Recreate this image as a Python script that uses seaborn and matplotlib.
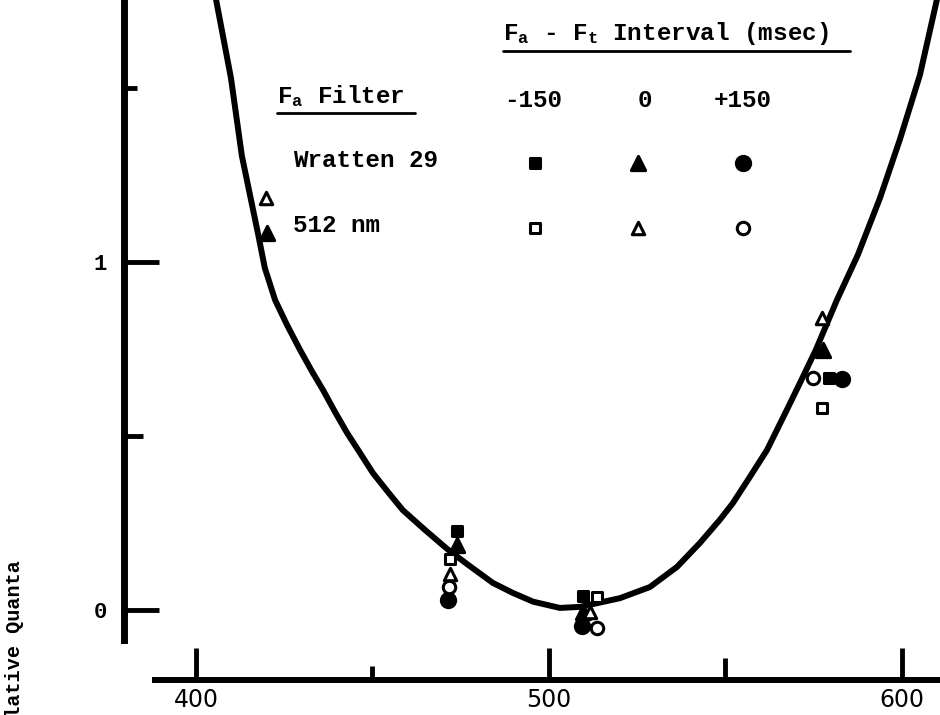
import matplotlib
matplotlib.use("Agg")
import matplotlib.pyplot as plt
from matplotlib.lines import Line2D
import seaborn as sns

# ---------------------------------------------------------------- data
# Fitted spectral curve: wavelength (nm) vs relative quanta
curve_nm = [405.7, 409.9, 413.0, 417.6, 419.5, 422.4, 425.8, 429.5, 432.9,
            436.0, 439.4, 442.8, 446.5, 450.1, 454.4, 458.6, 464.9, 471.1,
            476.8, 484.1, 489.8, 495.5, 503.1, 508.8, 520.1, 528.6, 536.3,
            542.8, 548.4, 552.1, 556.9, 561.8, 567.4, 571.1, 575.6, 581.6,
            587.5, 593.8, 599.4, 605.1, 609.9]
curve_q = [1.753, 1.529, 1.305, 1.080, 0.983, 0.891, 0.819, 0.747, 0.685,
           0.632, 0.569, 0.509, 0.451, 0.394, 0.339, 0.287, 0.230, 0.176,
           0.132, 0.078, 0.049, 0.024, 0.006, 0.009, 0.034, 0.066, 0.124,
           0.193, 0.259, 0.307, 0.382, 0.460, 0.575, 0.652, 0.747, 0.891,
           1.020, 1.184, 1.351, 1.537, 1.753]

filter_names = ["Wratten 29", "512 nm"]
interval_labels = ["-150", "0", "+150"]

# Wratten 29 adapting filter
w29_m150_nm = [473.9, 509.6, 579.3]
w29_m150_q = [0.227, 0.040, 0.667]
w29_0_nm = [420.1, 473.9, 509.6, 577.6]
w29_0_q = [1.083, 0.187, -0.006, 0.747]
w29_p150_nm = [471.4, 509.3, 583.0]
w29_p150_q = [0.029, -0.046, 0.664]

# 512 nm adapting filter
g512_m150_nm = [472.0, 513.6, 577.3]
g512_m150_q = [0.147, 0.037, 0.580]
g512_0_nm = [419.8, 472.0, 511.6, 577.3]
g512_0_q = [1.184, 0.103, -0.006, 0.839]
g512_p150_nm = [471.7, 513.6, 574.8]
g512_p150_q = [0.066, -0.052, 0.667]

x_major = [400, 500, 600]
x_minor = [450, 550]
y_major = [0, 1]
y_minor = [0.5, 1.5]

# ---------------------------------------------------------------- style
sns.set_style("white", rc={"axes.edgecolor": "black",
                           "xtick.color": "black", "ytick.color": "black",
                           "text.color": "black"})
plt.rcParams["font.family"] = ["Liberation Mono", "DejaVu Sans"]
plt.rcParams["mathtext.fontset"] = "custom"
plt.rcParams["mathtext.rm"] = "Liberation Mono:bold"
plt.rcParams["mathtext.it"] = "Liberation Mono:bold"

W, H = 940, 715


def fx(x):
    return x / W


def fy(y):
    return 1 - y / H


fig = plt.figure(figsize=(W / 100, H / 100), dpi=100)
ax = fig.add_axes([fx(124), fy(680), 1 - fx(124), 680 / H])
ax.set_xlim(379.6, 610.8)
ax.set_ylim(-0.2011, 1.7529)

# curve
sns.lineplot(x=curve_nm, y=curve_q, color="black", linewidth=4.3,
             sort=False, ax=ax, zorder=2, solid_joinstyle="round",
             solid_capstyle="round")

# marker style for each (filter, interval) combination
series = [
    (w29_m150_nm, w29_m150_q, "s", 62, "black"),
    (w29_0_nm, w29_0_q, "^", 105, "black"),
    (w29_p150_nm, w29_p150_q, "o", 105, "black"),
    (g512_m150_nm, g512_m150_q, "s", 52, "white"),
    (g512_0_nm, g512_0_q, "^", 80, "white"),
    (g512_p150_nm, g512_p150_q, "o", 80, "white"),
]
for xs, ys, mk, size, face in series:
    sns.scatterplot(x=xs, y=ys, marker=mk, s=size, color=face,
                    edgecolor="black", linewidth=2.2, ax=ax, zorder=3)

# axes: spines with bounds
for side in ("top", "right"):
    ax.spines[side].set_visible(False)
ax.spines["left"].set_linewidth(5)
ax.spines["left"].set_color("black")
ax.spines["left"].set_bounds(-0.086, 1.76)
ax.spines["bottom"].set_linewidth(4.3)
ax.spines["bottom"].set_color("black")
ax.spines["bottom"].set_bounds(388.4, 610.8)

ax.set_xticks(x_major)
ax.set_xticks(x_minor, minor=True)
ax.set_xticklabels([str(v) for v in x_major])
ax.set_yticks(y_major)
ax.set_yticks(y_minor, minor=True)
ax.set_yticklabels([str(v) for v in y_major])

ax.tick_params(axis="x", which="major", direction="in", length=23, width=3.5,
               pad=6, labelsize=17, bottom=True, colors="black")
ax.tick_params(axis="x", which="minor", direction="in", length=16, width=3.5,
               bottom=True, colors="black")
ax.tick_params(axis="y", which="major", direction="in", length=25, width=3.5,
               pad=12, labelsize=16, left=True, colors="black")
ax.tick_params(axis="y", which="minor", direction="in", length=14, width=3.5,
               left=True, colors="black")

# individual tick lengths
ax.xaxis.get_minor_ticks()[0].tick1line.set_markersize(10)
ax.yaxis.get_minor_ticks()[1].tick1line.set_markersize(9)

for lab in ax.get_xticklabels():
    lab.set_family(["Liberation Sans Narrow", "DejaVu Sans"])
for lab in ax.get_yticklabels():
    lab.set_fontweight("bold")

ax.set_xlabel("")
ax.set_ylabel("")

# y label, running off the bottom of the page
fig.text(fx(15), fy(560), "Relative Quanta", rotation=90, ha="center",
         va="top", fontsize=14.5, fontweight="bold")

# ---------------------------------------------------------------- key
txt = dict(fontsize=17.5, fontweight="bold", va="baseline")
fig.text(fx(503), fy(40), r"F$_{\mathrm{a}}$ - F$_{\mathrm{t}}$ Interval (msec)",
         ha="left", **txt)
fig.add_artist(Line2D([fx(503), fx(850)], [fy(51), fy(51)], color="black",
                      lw=2, transform=fig.transFigure))
fig.text(fx(277), fy(103), r"F$_{\mathrm{a}}$ Filter", ha="left", **txt)
fig.add_artist(Line2D([fx(277), fx(415)], [fy(113), fy(113)], color="black",
                      lw=2, transform=fig.transFigure))

col_x = [533, 645, 743]
for cx, lab in zip(col_x, interval_labels):
    fig.text(fx(cx), fy(107), lab, ha="center", **txt)

row_y = [163, 228]
for ry, name in zip(row_y, filter_names):
    fig.text(fx(293), fy(ry + 4), name, ha="left", **txt)

key_markers = [("s", 62, "black"), ("^", 105, "black"), ("o", 105, "black"),
               ("s", 52, "white"), ("^", 80, "white"), ("o", 80, "white")]
key_x = [535, 638, 743]
for i, (mk, size, face) in enumerate(key_markers):
    r, c = divmod(i, 3)
    ax.scatter([fx(key_x[c])], [fy(row_y[r])], marker=mk, s=size, c=face,
               edgecolors="black", linewidths=2.2, transform=fig.transFigure,
               clip_on=False, zorder=4)

fig.savefig("out.png", dpi=100)
